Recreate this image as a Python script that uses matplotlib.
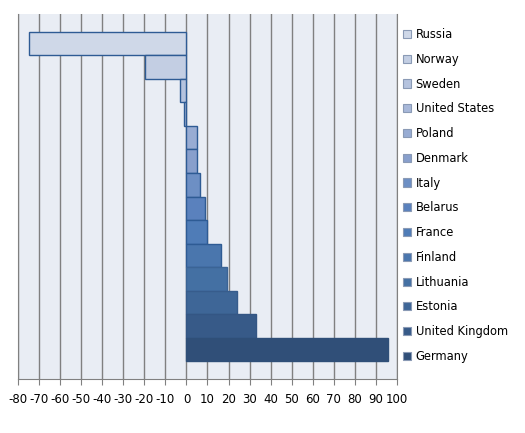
import numpy as np
from matplotlib import pyplot as plt
from matplotlib.patches import Patch

plt.rcParams["axes.unicode_minus"] = False

countries = ["Russia", "Norway", "Sweden", "United States", "Poland", "Denmark",
             "Italy", "Belarus", "France", "Finland", "Lithuania", "Estonia",
             "United Kingdom", "Germany"]
values = [-74.7, -19.5, -2.9, -1.4, 5.2, 5.1, 6.3, 8.7, 9.7, 16.4, 19.2, 24.0,
          33.0, 95.8]

colors = ["#cfd8e8", "#c3cee3", "#b5c3de", "#a8b8d9", "#98acd3", "#889fcc",
          "#6d8fc4", "#5a81bd", "#4f7cb7", "#4a76ad", "#4470a3", "#3e6697",
          "#375a88", "#304f78"]
edges = ["#2e5b94"] * 10 + ["#3b6495", "#375c8c", "#345684", "#2f4f78"]

fig = plt.figure(figsize=(5.25, 4.33), dpi=100)
ax = fig.add_axes([18.3 / 525, 1 - 379 / 433, 378.4 / 525, 365 / 433])
ax.set_facecolor("#e9edf4")

y = np.arange(len(countries))
for i in range(len(countries)):
    ax.barh(y[i], values[i], height=1.0, color=colors[i], edgecolor=edges[i],
            linewidth=1.0, label=countries[i], zorder=3)

ax.set_xlim(-80, 100)
ax.set_ylim(13.5 + 0.75, -0.5 - 0.75)
ax.set_xticks(np.arange(-80, 101, 10))
ax.set_yticks([])
ax.grid(axis="x", color="#808080", linewidth=1.0, zorder=1)
ax.spines["top"].set_visible(False)
for s in ["left", "right", "bottom"]:
    ax.spines[s].set_color("#808080")
ax.tick_params(axis="x", length=4, color="#808080", labelsize=8.5, pad=6)

handles = [Patch(facecolor=colors[i], edgecolor="#8a9ab5", linewidth=0.8)
           for i in range(len(countries))]
leg = fig.legend(handles, countries, loc="upper left",
                 bbox_to_anchor=(403 / 525, 1 - 28 / 433), frameon=False,
                 fontsize=8.3, handlelength=0.7, handleheight=0.7,
                 handletextpad=0.4, labelspacing=1.02, borderaxespad=0,
                 borderpad=0)

fig.savefig("out.png", dpi=100)
